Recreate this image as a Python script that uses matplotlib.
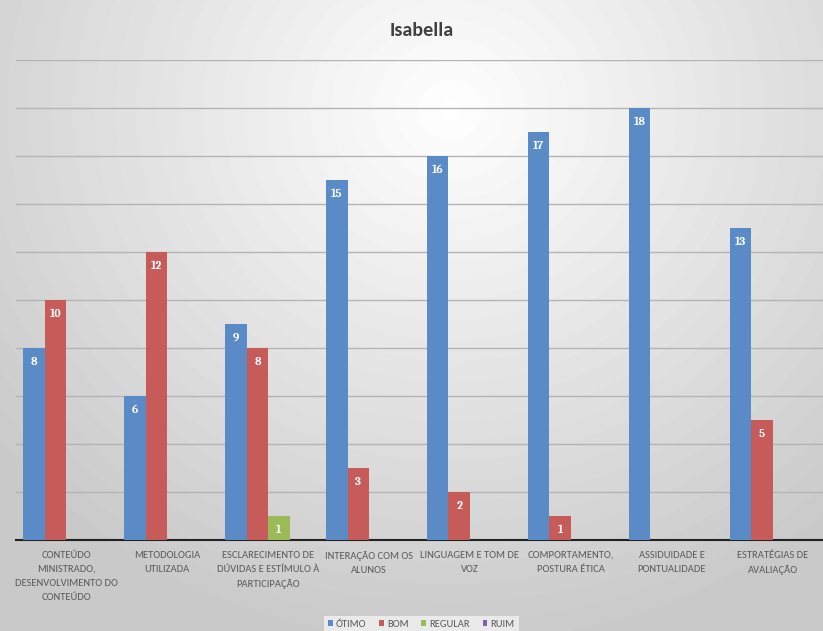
import numpy as np
import matplotlib.pyplot as plt
from matplotlib import font_manager

categorias = [
    'CONTEÚDO\nMINISTRADO,\nDESENVOLVIMENTO DO\nCONTEÚDO',
    'METODOLOGIA\nUTILIZADA',
    'ESCLARECIMENTO DE\nDÚVIDAS E ESTÍMULO À\nPARTICIPAÇÃO',
    'INTERAÇÃO COM OS\nALUNOS',
    'LINGUAGEM E TOM DE\nVOZ',
    'COMPORTAMENTO,\nPOSTURA ÉTICA',
    'ASSIDUIDADE E\nPONTUALIDADE',
    'ESTRATÉGIAS DE\nAVALIAÇÃO',
]
otimo = [8, 6, 9, 15, 16, 17, 18, 13]
bom = [10, 12, 8, 3, 2, 1, 0, 5]
regular = [0, 0, 1, 0, 0, 0, 0, 0]
ruim = [0, 0, 0, 0, 0, 0, 0, 0]

series = [('ÓTIMO', otimo, '#5b8bc7'), ('BOM', bom, '#c65b5a'),
          ('REGULAR', regular, '#9bbb59'), ('RUIM', ruim, '#8064a2')]

names = set(f.name for f in font_manager.fontManager.ttflist)


def pick(opts):
    for o in opts:
        if o in names:
            return o
    return 'DejaVu Sans'


label_font = pick(['Carlito', 'Open Sans'])
num_font = pick(['Caladea', 'DejaVu Serif'])

fig = plt.figure(figsize=(8.23, 6.31), dpi=100)

# fundo com gradiente radial
bg = fig.add_axes([0, 0, 1, 1], zorder=-10)
yy, xx = np.mgrid[0:631, 0:823]
r = np.sqrt(((xx - 450) / 580.0) ** 2 + ((yy - 110) / 540.0) ** 2)
shade = np.clip(1.0 - 0.21 * r, 0.79, 1.0)
bg.imshow(shade, cmap='gray', vmin=0, vmax=1, aspect='auto', extent=[0, 1, 0, 1])
bg.axis('off')

ax = fig.add_axes([16 / 823, 91 / 631, 807 / 823, 480 / 631])
ax.patch.set_alpha(0)

x = np.arange(len(categorias))
w = 0.213
for i, (nome, vals, cor) in enumerate(series):
    pos = x + (i - 1.5) * w
    ax.bar(pos, vals, width=w, color=cor, label=nome, zorder=3)
    for p, v in zip(pos, vals):
        if v > 0:
            ax.text(p, v - 0.58, str(v), ha='center', va='center', color='white',
                    fontsize=8.5, fontweight='bold', family=num_font, zorder=4)

ax.set_ylim(0, 20)
ax.set_xlim(-0.5, len(categorias) - 0.5)
ax.set_yticks(np.arange(2, 21, 2))
ax.yaxis.grid(True, color='#b4b4b4', linewidth=1, zorder=0)
ax.tick_params(axis='y', left=False, labelleft=False)
ax.tick_params(axis='x', length=0, pad=8)
ax.set_xticks(x)
ax.set_xticklabels(categorias, fontsize=7.6, color='#595959', family=label_font, linespacing=1.7)
for s in ['top', 'right', 'left']:
    ax.spines[s].set_visible(False)
ax.spines['bottom'].set_color('#222222')
ax.spines['bottom'].set_linewidth(1.5)

fig.text(0.512, 0.952, 'Isabella', ha='center', va='center', fontsize=14.5,
         fontweight='bold', color='#404040', family=label_font)

leg = fig.legend(loc='lower center', bbox_to_anchor=(0.512, -0.012), ncol=4, frameon=True,
                 fontsize=7.6, handlelength=0.45, handleheight=0.45, handletextpad=0.3,
                 columnspacing=1.2, borderpad=0.4, fancybox=False)
leg.get_frame().set_facecolor('#f2f2f2')
leg.get_frame().set_edgecolor('none')
for t in leg.get_texts():
    t.set_color('#595959')
    t.set_family(label_font)

fig.savefig('out.png', dpi=100)
